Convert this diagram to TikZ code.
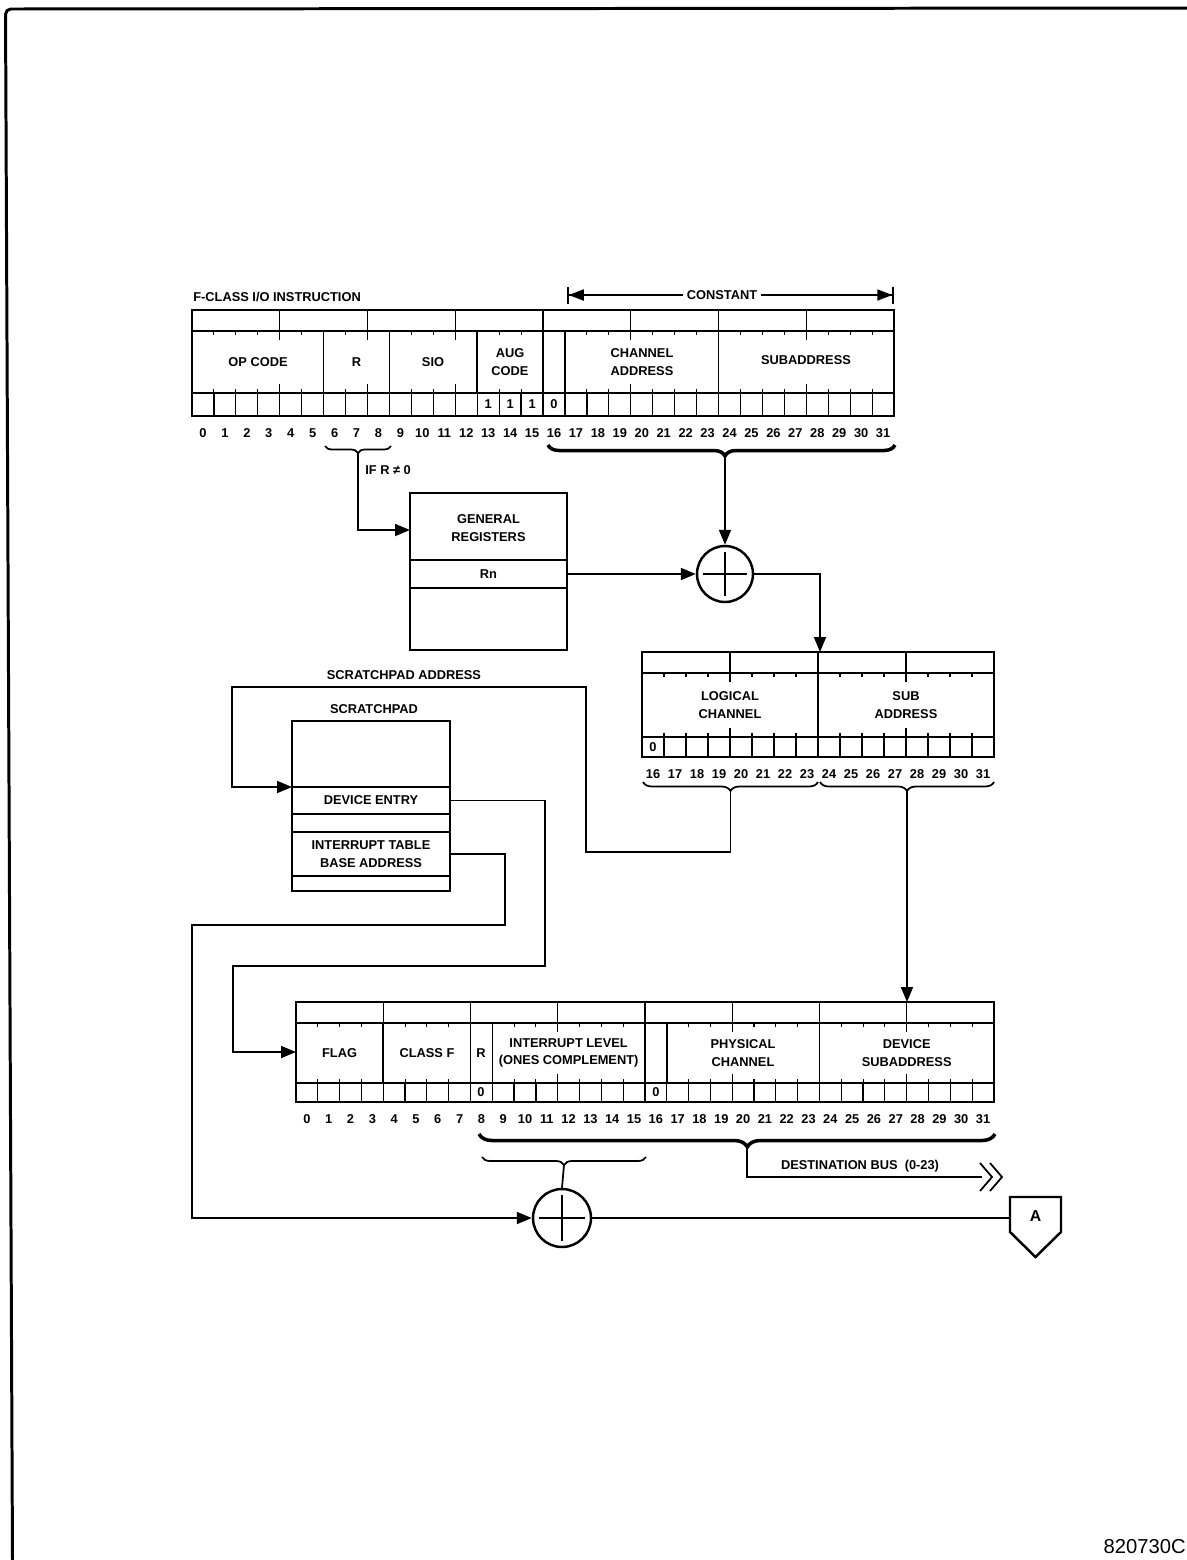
\documentclass[tikz,border=0pt]{standalone}
\usepackage{fontspec}
\newfontfamily\diagfont{Liberation Sans}
\usetikzlibrary{arrows.meta,decorations.pathreplacing}

\newcommand{\lblfont}{\diagfont\bfseries\fontsize{7.3}{10}\selectfont}

% register frame: #1 left x, #2 bit width, #3 bits, #4 top, #5 strip line,
% #6 cell line, #7 bottom, #8 first bit number, #9 name prefix
\newcommand{\bitreg}[9]{%
  \pgfmathtruncatemacro{\lastb}{#3-1}
  \pgfmathtruncatemacro{\lastq}{#3-4}
  \foreach \i in {1,...,\lastb} {
    \draw[tickline] ({#1+\i*#2},#5) -- ++(0,4);
    \draw[tickline] ({#1+\i*#2},#6) -- ++(0,-4);
    \draw[cellline] ({#1+\i*#2},#6) -- ({#1+\i*#2},#7);
  }
  \foreach \i in {4,8,...,\lastq} {
    \draw[cellline] ({#1+\i*#2},#4) -- ({#1+\i*#2},#5);
    \draw[tickline] ({#1+\i*#2},#5) -- ++(0,9);
    \draw[tickline] ({#1+\i*#2},#6) -- ++(0,-9);
  }
  \foreach \i in {0,...,\lastb} {
    \pgfmathtruncatemacro{\bn}{\i+#8}
    \node[bitnum] (#9\bn) at ({#1+(\i+0.5)*#2},{#7+17}) {\bn};
  }
  \draw[regline] (#1,#5) -- ++({#3*#2},0) (#1,#6) -- ++({#3*#2},0);
  \draw[regline] (#1,#4) rectangle ++({#3*#2},{#7-#4});
}

\begin{document}
\begin{tikzpicture}[
    x=0.02cm, y=-0.02cm,
    lbl/.style={font=\lblfont, inner sep=0pt, align=center},
    bitnum/.style={font=\lblfont, inner sep=0pt},
    regline/.style={line width=1.6pt},
    cellline/.style={line width=0.7pt},
    tickline/.style={line width=0.6pt},
    fieldline/.style={line width=0.9pt},
    wire/.style={line width=1pt},
    conn/.style={wire, -{Triangle[length=0.3cm,width=0.24cm]}},
    memrow/.style={draw, line width=1.1pt, inner sep=0pt, minimum width=3.16cm, font=\lblfont, align=center},
    membox/.style={draw, regline, inner sep=0pt},
    adder/.style={circle, draw, line width=1.4pt, inner sep=0pt,
        path picture={\draw[line width=0.9pt]
            ([xshift=0.12cm]path picture bounding box.west) -- ([xshift=-0.12cm]path picture bounding box.east)
            ([yshift=-0.12cm]path picture bounding box.north) -- ([yshift=0.12cm]path picture bounding box.south);}},
    thinbrace/.style={decorate, decoration={brace, mirror, amplitude=0.16cm}, line width=1pt},
    thickbrace/.style={decorate, decoration={brace, mirror, amplitude=0.22cm}, line width=2pt}
]
\useasboundingbox (0,0) rectangle (1187,1560);

% page edge
\draw[line width=1.7pt, rounded corners=3pt] (12.5,1560) -- (5.5,9) -- (1187,8);
\node[font=\diagfont\fontsize{11.5}{13}\selectfont, anchor=base east, inner sep=0pt] (figno) at (1186,1553) {820730C};

% F-class instruction
\node[lbl, anchor=west] (ititle) at (193,297) {F-CLASS I/O INSTRUCTION};
\bitreg{192}{21.94}{32}{310}{331}{393}{416}{0}{ib}
\foreach \b in {6,9,13,16,17,24}
    \draw[fieldline] ({192+\b*21.94},331) -- ({192+\b*21.94},393);
\node[lbl] (opcode) at (258,362) {OP CODE};
\node[lbl] (rfld) at (356.6,362) {R};
\node[lbl] (sio) at (433,362) {SIO};
\node[lbl] (aug) at (510,362) {AUG\\CODE};
\node[lbl] (chadr) at (642,362) {CHANNEL\\ADDRESS};
\node[lbl] (subadr) at (806,360) {SUBADDRESS};
\foreach \b/\v in {13/1,14/1,15/1,16/0}
    \node[lbl] (iv\b) at ({192+(\b+0.5)*21.94},404.5) {\v};

% constant span
\coordinate (cl) at (567,295);
\coordinate (cr) at (894,295);
\draw[wire, {Bar[width=0.34cm]Triangle[length=0.3cm,width=0.22cm]}-{Triangle[length=0.3cm,width=0.22cm]Bar[width=0.34cm]}] (cl) -- (cr);
\node[lbl, fill=white, inner sep=2pt] (const) at (722,295) {CONSTANT};

% braces under the instruction
\draw[thinbrace, decoration={amplitude=0.14cm}] (325,446) -- (391,446);
\coordinate (rtip) at (358,453);
\node[lbl, anchor=west] (ifr) at (365,470) {IF R ≠ 0};
\draw[thickbrace, decoration={aspect=0.51}] (548,445) -- (895,445);
\coordinate (ctip) at (725,456);

% general registers
\node[membox, minimum width=3.14cm, minimum height=3.14cm] (gr) at (488.5,571.5) {};
\node[lbl] (grtitle) at (488.5,528) {GENERAL\\REGISTERS};
\node[memrow, minimum width=3.14cm, minimum height=0.56cm] (rn) at (488.5,574) {Rn};
\coordinate (grin) at (410,530);
\draw[conn] (rtip) |- (grin);

% first adder
\node[adder, minimum size=1.12cm] (add1) at (725,574) {};
\draw[conn] (ctip) -- (add1.north);
\draw[conn] (rn.east) -- (add1.west);

% logical channel / subaddress
\bitreg{642}{22}{16}{652}{673}{737}{757}{16}{lb}
\draw[fieldline] (818,673) -- (818,737);
\node[lbl] (lchan) at (730,705) {LOGICAL\\CHANNEL};
\node[lbl] (lsub) at (906,705) {SUB\\ADDRESS};
\node[lbl] (lv16) at (653,747) {0};
\coordinate (lregin) at (820,652);
\draw[conn] (add1.east) -| (lregin);
\draw[thinbrace, decoration={amplitude=0.18cm}] (643,782) -- (818,782);
\coordinate (lctip) at (730.5,791);
\draw[thinbrace, decoration={amplitude=0.18cm}] (820,782) -- (994,782);
\coordinate (satip) at (907,791);

% scratchpad
\node[lbl] (spaddr) at (404,675) {SCRATCHPAD ADDRESS};
\node[lbl] (sptitle) at (374,709) {SCRATCHPAD};
\node[membox, minimum width=3.16cm, minimum height=3.4cm] (sp) at (371,806) {};
\node[memrow, minimum height=0.54cm] (de) at (371,800.5) {DEVICE ENTRY};
\node[memrow, minimum height=0.88cm] (itb) at (371,854) {INTERRUPT TABLE\\BASE ADDRESS};
\coordinate (spa1) at (586,852);
\coordinate (spa2) at (232,687);
\coordinate (spin) at (292,787);
\draw[conn] (lctip) |- (spa1) |- (spa2) |- (spin);

% device entry to destination register
\coordinate (dw1) at (545,966);
\coordinate (dw2) at (233,966);
\coordinate (dregin) at (296,1052);
\draw[conn] (de.east) -| (dw1) -- (dw2) |- (dregin);

% destination register
\bitreg{296}{21.81}{32}{1002}{1023}{1083}{1102}{0}{db}
\foreach \b in {4,8,9,16,17,24}
    \draw[fieldline] ({296+\b*21.81},1023) -- ({296+\b*21.81},1083);
\node[lbl] (flag) at (339.6,1053) {FLAG};
\node[lbl] (classf) at (427,1053) {CLASS F};
\node[lbl] (rbit) at (481,1053) {R};
\node[lbl] (intlvl) at (568.6,1053) {INTERRUPT LEVEL\\(ONES COMPLEMENT)};
\node[lbl] (phch) at (743,1053) {PHYSICAL\\CHANNEL};
\node[lbl] (devsub) at (906.7,1053) {DEVICE\\SUBADDRESS};
\node[lbl] (dv8) at (481,1092.5) {0};
\node[lbl] (dv16) at (656,1092.5) {0};
\coordinate (dregsa) at (907,1002);
\draw[conn] (satip) -- (dregsa);

% destination bus and interrupt address
\draw[thickbrace, decoration={amplitude=0.26cm, aspect=0.52}] (479,1134) -- (995,1134);
\coordinate (btip) at (747,1147);
\draw[thinbrace, decoration={amplitude=0.16cm}] (482,1157) -- (646,1157);
\coordinate (stip) at (564,1165);
\coordinate (busend) at (982,1177);
\draw[wire] (btip) |- (busend);
\draw[wire] (busend) ++(-2,-14) -- ++(12,14) -- ++(-12,14)
            (busend) ++(8,-14) -- ++(12,14) -- ++(-12,14);
\node[lbl, anchor=south] (bus) at (860,1172) {DESTINATION BUS\ \ (0-23)};

\node[adder, minimum size=1.16cm] (add2) at (562,1218) {};
\draw[wire] (stip) -- (add2.north);
\coordinate (iw1) at (505,925);
\coordinate (iw2) at (192,925);
\draw[conn] (itb.east) -| (iw1) -- (iw2) |- (add2.west);

% off-page connector
\draw[line width=1.4pt] (1010,1197) -- (1061,1197) -- (1061,1232) -- (1035.5,1257) -- (1010,1232) -- cycle;
\node[lbl, font=\diagfont\bfseries\fontsize{9}{10}\selectfont] (conA) at (1035.5,1216) {A};
\coordinate (conAin) at (1010,1218);
\draw[wire] (add2.east) -- (conAin);
\end{tikzpicture}
\end{document}
